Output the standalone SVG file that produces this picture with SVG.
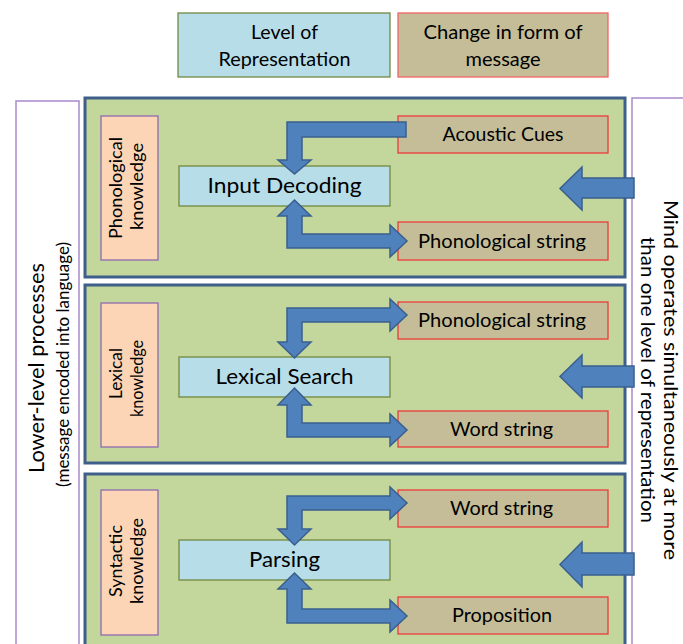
<svg xmlns="http://www.w3.org/2000/svg" width="683" height="644" viewBox="0 0 683 644">
<style>
text{font-family:Lato,"Open Sans","Liberation Sans",sans-serif;fill:#000;}
.outer{fill:#fff;stroke:#A98BCB;stroke-width:1.5;}
.panel{fill:#C3D69B;stroke:#3E5F8A;stroke-width:3;}
.lvl{fill:#B7DDE8;stroke:#71893F;stroke-width:1.3;}
.chg{fill:#C4BD97;stroke:#EE3B3B;stroke-width:1.3;}
.kn{fill:#FBD5B5;stroke:#8E6BB0;stroke-width:1.3;}
.arr{fill:#4F81BD;stroke:#3A5F8E;stroke-width:1.5;stroke-linejoin:miter;}
.t20{font-size:20px;}
.t22{font-size:22px;}
.t18{font-size:18px;}
.t21{font-size:21px;}
.t19{font-size:18.5px;}
.t16{font-size:16.5px;}
</style>

<!-- legend -->
<g id="legend-level">
<rect class="lvl" x="178" y="13" width="212" height="64"/>
<text class="t20" x="284.5" y="39" text-anchor="middle" textLength="67" lengthAdjust="spacingAndGlyphs">Level of</text>
<text class="t20" x="284.5" y="66" text-anchor="middle" textLength="132" lengthAdjust="spacingAndGlyphs">Representation</text>
</g>
<g id="legend-change">
<rect class="chg" x="398" y="13" width="210" height="64" style="stroke:#F26464"/>
<text class="t20" x="503" y="39" text-anchor="middle" textLength="159" lengthAdjust="spacingAndGlyphs">Change in form of</text>
<text class="t20" x="503" y="66" text-anchor="middle" textLength="75" lengthAdjust="spacingAndGlyphs">message</text>
</g>

<!-- outer side boxes -->
<g id="lower-level">
<rect class="outer" x="16" y="101" width="63" height="560"/>
<text class="t21" transform="translate(43.5,368) rotate(-90)" text-anchor="middle" textLength="210" lengthAdjust="spacingAndGlyphs">Lower-level processes</text>
<text class="t16" transform="translate(68.5,364.5) rotate(-90)" text-anchor="middle" textLength="245" lengthAdjust="spacingAndGlyphs">(message encoded into language)</text>
</g>
<g id="mind-operates">
<rect class="outer" x="632" y="98" width="70" height="560"/>
<text class="t19" transform="translate(664,380) rotate(90)" text-anchor="middle" textLength="360" lengthAdjust="spacingAndGlyphs">Mind operates simultaneously at more</text>
<text class="t19" transform="translate(641,380) rotate(90)" text-anchor="middle" textLength="286" lengthAdjust="spacingAndGlyphs">than one level of representation</text>
</g>

<!-- panels -->
<g id="panel-phonological">
<rect class="panel" x="85" y="98" width="540" height="179"/>
</g>
<g id="panel-lexical">
<rect class="panel" x="85" y="285" width="540" height="178"/>
</g>
<g id="panel-syntactic">
<rect class="panel" x="85" y="474" width="540" height="200"/>
</g>

<!-- knowledge boxes -->
<g id="phonological-knowledge">
<rect class="kn" x="101" y="116" width="57" height="144"/>
<text class="t18" transform="translate(122,188) rotate(-90)" text-anchor="middle" textLength="102" lengthAdjust="spacingAndGlyphs">Phonological</text>
<text class="t18" transform="translate(143,186.5) rotate(-90)" text-anchor="middle" textLength="87" lengthAdjust="spacingAndGlyphs">knowledge</text>
</g>
<g id="lexical-knowledge">
<rect class="kn" x="101" y="303" width="57" height="144"/>
<text class="t18" transform="translate(122,373.5) rotate(-90)" text-anchor="middle" textLength="51" lengthAdjust="spacingAndGlyphs">Lexical</text>
<text class="t18" transform="translate(143,378.5) rotate(-90)" text-anchor="middle" textLength="77" lengthAdjust="spacingAndGlyphs">knowledge</text>
</g>
<g id="syntactic-knowledge">
<rect class="kn" x="101" y="490" width="57" height="145"/>
<text class="t18" transform="translate(122,561) rotate(-90)" text-anchor="middle" textLength="72" lengthAdjust="spacingAndGlyphs">Syntactic</text>
<text class="t18" transform="translate(143,561) rotate(-90)" text-anchor="middle" textLength="86" lengthAdjust="spacingAndGlyphs">knowledge</text>
</g>

<!-- level boxes -->
<g id="input-decoding">
<rect class="lvl" x="179" y="166" width="211" height="40"/>
<text class="t22" x="284.5" y="193" text-anchor="middle" textLength="154" lengthAdjust="spacingAndGlyphs">Input Decoding</text>
</g>
<g id="lexical-search">
<rect class="lvl" x="179" y="357" width="211" height="40"/>
<text class="t22" x="284.5" y="384" text-anchor="middle" textLength="138" lengthAdjust="spacingAndGlyphs">Lexical Search</text>
</g>
<g id="parsing">
<rect class="lvl" x="179" y="540" width="211" height="40"/>
<text class="t22" x="284.5" y="567" text-anchor="middle" textLength="71" lengthAdjust="spacingAndGlyphs">Parsing</text>
</g>

<!-- change boxes -->
<g id="acoustic-cues">
<rect class="chg" x="398" y="116" width="210" height="37"/>
<text class="t20" x="503" y="141" text-anchor="middle" textLength="121" lengthAdjust="spacingAndGlyphs">Acoustic Cues</text>
</g>
<g id="phonological-string-1">
<rect class="chg" x="398" y="222" width="210" height="38"/>
<text class="t20" x="502" y="248" text-anchor="middle" textLength="168" lengthAdjust="spacingAndGlyphs">Phonological string</text>
</g>
<g id="phonological-string-2">
<rect class="chg" x="398" y="302" width="210" height="37"/>
<text class="t20" x="502" y="327" text-anchor="middle" textLength="168" lengthAdjust="spacingAndGlyphs">Phonological string</text>
</g>
<g id="word-string-1">
<rect class="chg" x="398" y="411" width="210" height="36"/>
<text class="t20" x="501.5" y="436" text-anchor="middle" textLength="103" lengthAdjust="spacingAndGlyphs">Word string</text>
</g>
<g id="word-string-2">
<rect class="chg" x="398" y="490" width="210" height="37"/>
<text class="t20" x="501.5" y="515" text-anchor="middle" textLength="103" lengthAdjust="spacingAndGlyphs">Word string</text>
</g>
<g id="proposition">
<rect class="chg" x="398" y="597" width="210" height="37"/>
<text class="t20" x="502" y="622" text-anchor="middle" textLength="100" lengthAdjust="spacingAndGlyphs">Proposition</text>
</g>

<!-- connectors -->
<g id="connectors">
<!-- panel 1 -->
<path class="arr" d="M406,122 L287,122 L287,160 L278,160 L294.5,174 L311,160 L302,160 L302,137 L406,137 Z"/>
<path class="arr" d="M294.5,200 L311,216 L302,216 L302,234 L390,234 L390,225 L407,241 L390,257 L390,248 L287,248 L287,216 L278,216 Z"/>
<!-- panel 2 -->
<path class="arr" d="M287,308 L390,308 L390,299 L407,315 L390,331 L390,322 L302,322 L302,342 L311,342 L294.5,358 L278,342 L287,342 Z"/>
<path class="arr" d="M294.5,388 L311,405 L302,405 L302,423 L390,423 L390,414 L407,430 L390,446 L390,437 L287,437 L287,405 L278,405 Z"/>
<!-- panel 3 -->
<path class="arr" d="M287,496 L390,496 L390,487 L407,503 L390,519 L390,510 L302,510 L302,529 L311,529 L294.5,545 L278,529 L287,529 Z"/>
<path class="arr" d="M294.5,573 L311,589 L302,589 L302,609 L390,609 L390,600 L407,616 L390,632 L390,623 L287,623 L287,589 L278,589 Z"/>
<!-- big left arrows -->
<path class="arr" d="M634,178 L582,178 L582,167 L560,188.5 L582,210 L582,198 L634,198 Z"/>
<path class="arr" d="M634,366 L582,366 L582,355 L560,376.5 L582,398 L582,387 L634,387 Z"/>
<path class="arr" d="M634,553 L582,553 L582,542 L560,564.5 L582,587 L582,575 L634,575 Z"/>
</g>
</svg>
